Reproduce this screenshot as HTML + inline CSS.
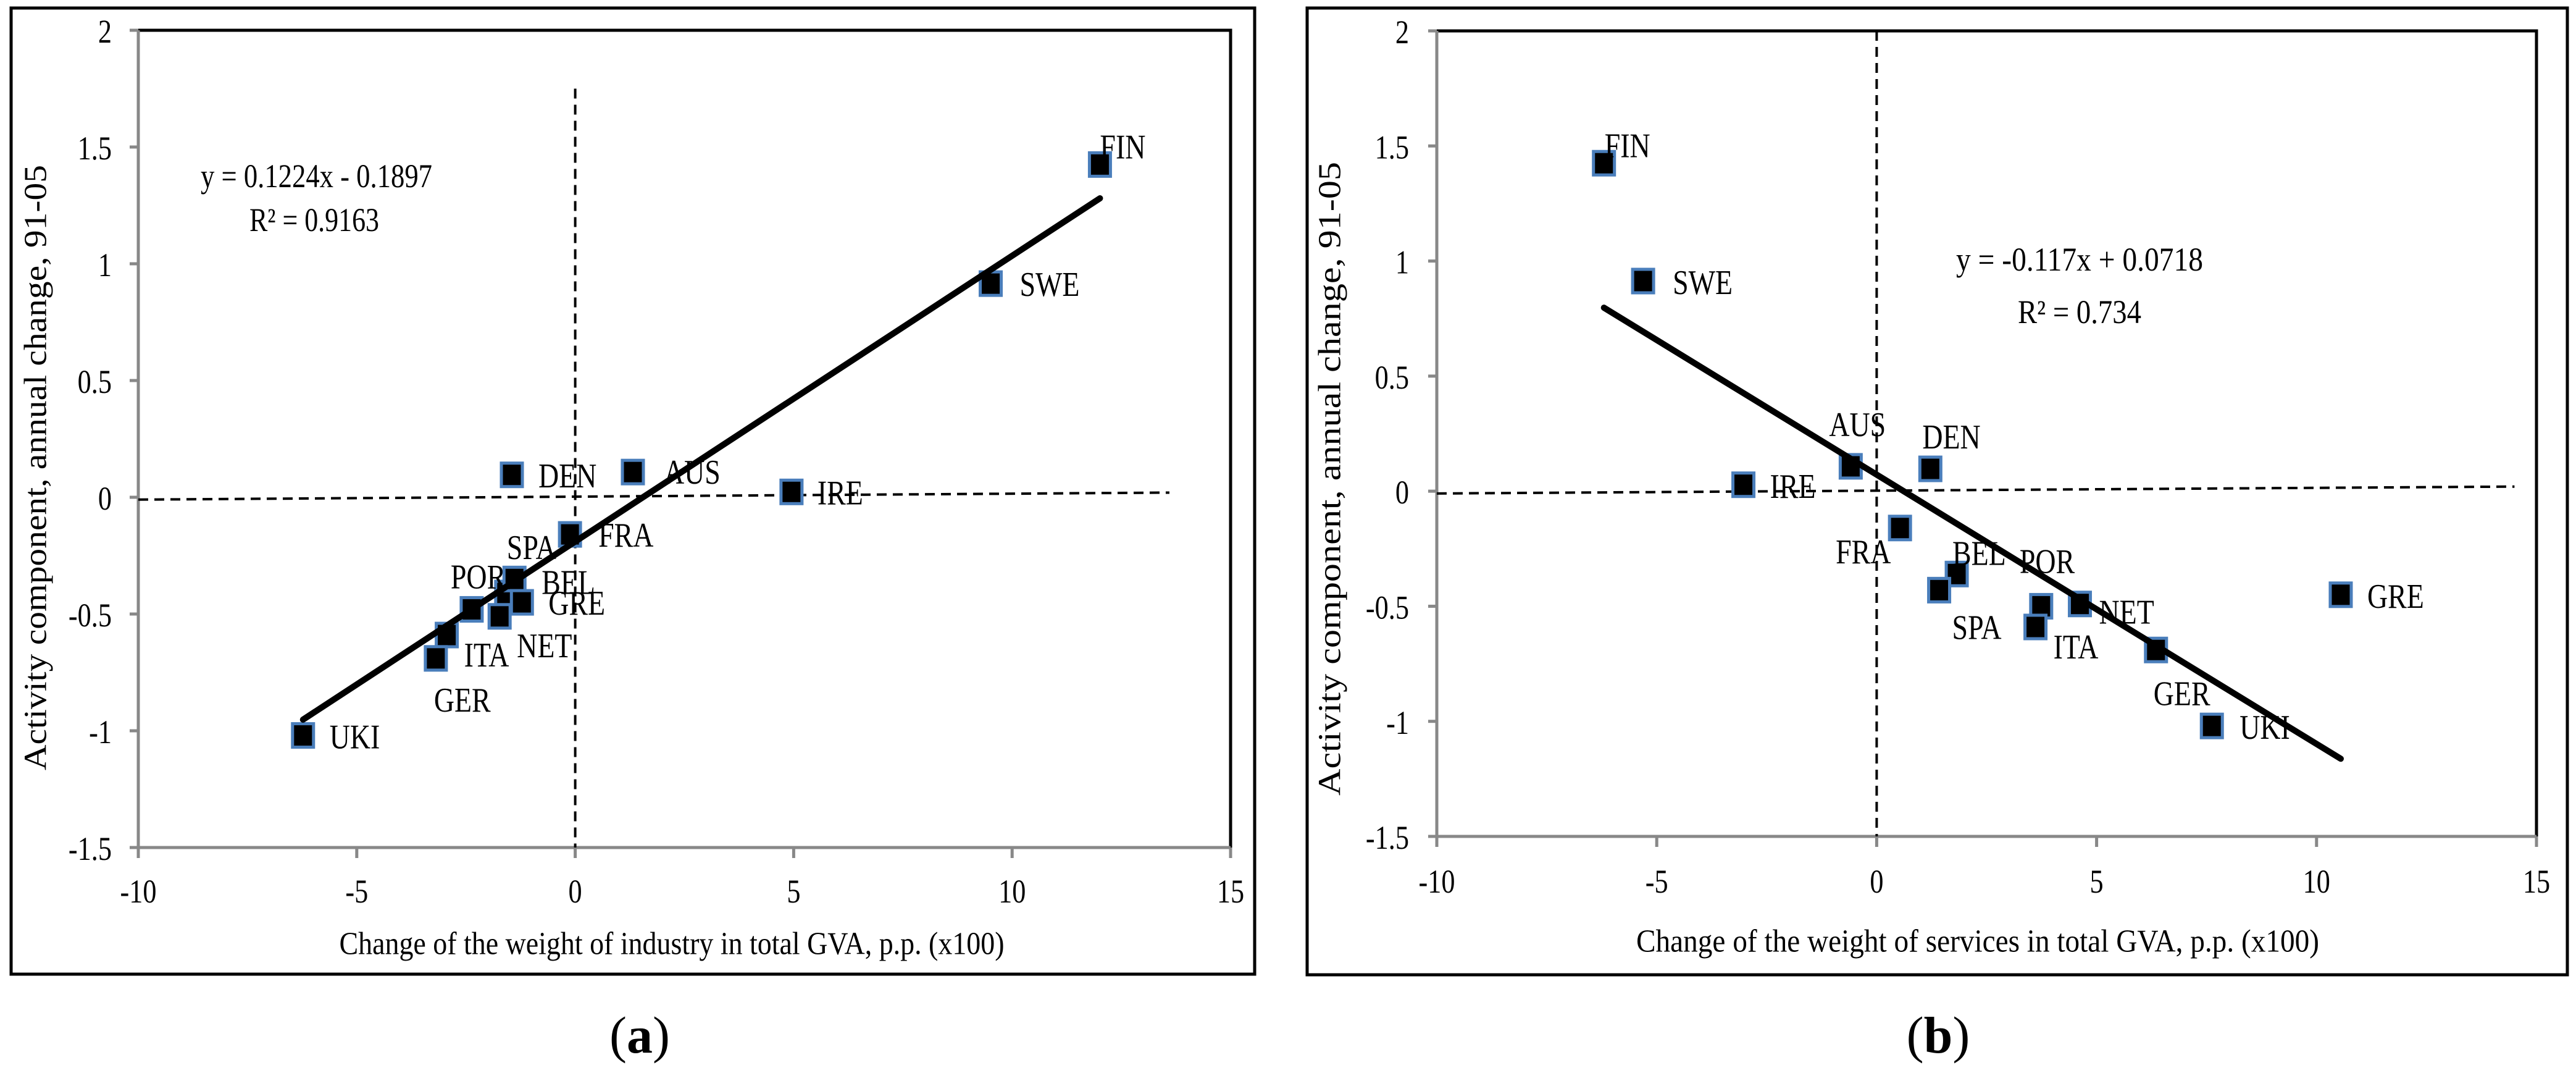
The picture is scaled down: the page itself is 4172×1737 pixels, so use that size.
<!DOCTYPE html>
<html><head><meta charset="utf-8"><style>
html,body{margin:0;padding:0;background:#fff;}
svg{display:block;}
text{font-family:"Liberation Serif",serif;fill:#000;}
</style></head><body>
<svg id="fig" width="4172" height="1737" viewBox="0 0 4172 1737" xmlns="http://www.w3.org/2000/svg"></svg>
<script>
const xTicks = [-10, -5, 0, 5, 10, 15];
const yTicks = [2, 1.5, 1, 0.5, 0, -0.5, -1, -1.5];
const aNames = ["FIN","SWE","DEN","AUS","IRE","FRA","SPA","POR","BEL","GRE","NET","ITA","GER","UKI"];
const aX = [12.01, 9.51, -1.45, 1.32, 4.95, -0.12, -1.58, -2.37, -1.39, -1.22, -1.73, -2.94, -3.19, -6.23];
const aY = [1.425, 0.915, 0.096, 0.108, 0.023, -0.159, -0.41, -0.48, -0.35, -0.45, -0.51, -0.59, -0.69, -1.02];
const bNames = ["FIN","SWE","IRE","AUS","DEN","FRA","BEL","SPA","POR","ITA","NET","GER","UKI","GRE"];
const bX = [-6.20, -5.31, -3.03, -0.59, 1.22, 0.53, 1.82, 1.42, 3.74, 3.61, 4.62, 6.35, 7.62, 10.55];
const bY = [1.425, 0.913, 0.028, 0.108, 0.097, -0.16, -0.36, -0.43, -0.50, -0.59, -0.49, -0.69, -1.02, -0.45];
const aSlope = 0.1224, aIntercept = -0.1897;
const bSlope = -0.117, bIntercept = 0.0718;

const NS = "http://www.w3.org/2000/svg";
const svg = document.getElementById("fig");
function mk(tag, attrs, parent) {
  const e = document.createElementNS(NS, tag);
  for (const k in attrs) e.setAttribute(k, attrs[k]);
  (parent || svg).appendChild(e);
  return e;
}
function txt(str, x, y, size, anchor, sx, parent, weight) {
  const t = mk("text", {x: 0, y: 0, "font-size": size, "text-anchor": anchor || "start",
    "dominant-baseline": "central", transform: `translate(${x},${y}) scale(${sx || 0.82},1)`}, parent);
  if (weight) t.setAttribute("font-weight", weight);
  t.textContent = str;
  return t;
}

const panelA = {
  key: "a", frame: [18, 13, 2032, 1577], L: 224, R: 1993, T: 49, B: 1372,
  names: aNames, xs: aX, ys: aY, slope: aSlope, icpt: aIntercept,
  xTitle: "Change of the weight  of industry in total GVA,  p.p. (x100)", xTitleX: 1088, xTitleY: 1528, xTitleLen: 1077,
  yTitleX: 58, yTitleY: 757, yTitleLen: 980,
  tickLabelRight: 181, xTickLabelY: 1443,
  eq: ["y = 0.1224x - 0.1897", "R² = 0.9163"], eqPos: [[325, 285, 375], [404, 356, 210]],
  vDashTop: 1.75, hDash: [-10, -0.01, 13.6, 0.02],
  letter: "(a)", letterX: 1036,
  off: {FIN:[0,-28],SWE:[47,2],DEN:[43,2],AUS:[50,1],IRE:[42,2],FRA:[46,2],SPA:[1,-73],POR:[-34,-52],BEL:[44,6],GRE:[43,2],NET:[28,48],ITA:[28,33],GER:[-3,68],UKI:[43,3]}
};
const panelB = {
  key: "b", frame: [2117, 13, 4158, 1578], L: 2327, R: 4108, T: 50, B: 1354,
  names: bNames, xs: bX, ys: bY, slope: bSlope, icpt: bIntercept,
  xTitle: "Change of the weight  of services in total GVA,  p.p. (x100)", xTitleX: 3203, xTitleY: 1524, xTitleLen: 1106,
  yTitleX: 2154, yTitleY: 775, yTitleLen: 1026,
  tickLabelRight: 2282, xTickLabelY: 1427,
  eq: ["y = -0.117x + 0.0718", "R² = 0.734"], eqPos: [[3168, 420, 400], [3268, 505, 200]],
  vDashTop: 2.0, hDash: [-10, -0.01, 14.5, 0.02],
  letter: "(b)", letterX: 3139,
  off: {FIN:[1,-28],SWE:[48,3],IRE:[43,3],AUS:[-35,-67],DEN:[-13,-51],FRA:[-104,39],BEL:[-7,-33],SPA:[21,61],POR:[-35,-72],ITA:[29,33],NET:[31,14],GER:[-4,71],UKI:[45,3],GRE:[43,3]}
};

function drawPanel(p) {
  const g = mk("g", {});
  
  
  const sx = v => p.L + (v + 10) / 25 * (p.R - p.L);
  const sy = v => p.T + (2 - v) / 3.5 * (p.B - p.T);
  const f = p.frame;
  const frame = mk("rect", {x: f[0], y: f[1], width: f[2] - f[0], height: f[3] - f[1], fill: "none", stroke: "#000", "stroke-width": 5}, g);
  
  
  // plot border top/right black
  const pb = mk("path", {d: `M${p.L},${p.T} H${p.R} V${p.B}`, fill: "none", stroke: "#000", "stroke-width": 5}, g);
  
  
  // axes gray
  const ax = mk("path", {d: `M${p.L},${p.T} V${p.B} H${p.R}`, fill: "none", stroke: "#888", "stroke-width": 5}, g);
  
  
  yTicks.forEach(v => {
    const t = mk("line", {x1: p.L - 14, x2: p.L, y1: sy(v), y2: sy(v), stroke: "#888", "stroke-width": 5}, g);
    
    
    const l = txt(String(v), p.tickLabelRight, sy(v) + 2, 54, "end", 0.82, g);
    
    
  });
  xTicks.forEach(v => {
    const t = mk("line", {x1: sx(v), x2: sx(v), y1: p.B, y2: p.B + 17, stroke: "#888", "stroke-width": 5}, g);
    
    
    const l = txt(String(v), sx(v), p.xTickLabelY, 54, "middle", 0.82, g);
    
    
  });
  // dashed reference lines
  const vd = mk("line", {x1: sx(0), x2: sx(0), y1: sy(p.vDashTop), y2: p.B, stroke: "#000", "stroke-width": 4, "stroke-dasharray": "16 10"}, g);
  
  
  const hd = mk("line", {x1: sx(p.hDash[0]), y1: sy(p.hDash[1]), x2: sx(p.hDash[2]), y2: sy(p.hDash[3]), stroke: "#000", "stroke-width": 4, "stroke-dasharray": "16 10"}, g);
  
  
  // markers
  p.names.forEach((n, i) => {
    const cx = sx(p.xs[i]), cy = sy(p.ys[i]);
    const m = mk("rect", {x: cx - 17, y: cy - 19, width: 34, height: 38, fill: "#000", stroke: "#4a7ebb", "stroke-width": 5}, g);
    
    
  });
  // trendline
  const x0 = Math.min(...p.xs), x1 = Math.max(...p.xs);
  const tl = mk("line", {x1: sx(x0), y1: sy(p.slope * x0 + p.icpt), x2: sx(x1), y2: sy(p.slope * x1 + p.icpt), stroke: "#000", "stroke-width": 10, "stroke-linecap": "round"}, g);
  
  
  // labels
  p.names.forEach((n, i) => {
    const o = p.off[n];
    const l = txt(n, sx(p.xs[i]) + o[0], sy(p.ys[i]) + o[1], 56, "start", 0.82, g);
    
    
  });
  // equation
  p.eq.forEach((s, i) => {
    const e = mk("text", {x: p.eqPos[i][0], y: p.eqPos[i][1], "font-size": 54, "dominant-baseline": "central", textLength: p.eqPos[i][2], lengthAdjust: "spacingAndGlyphs"}, g);
    e.textContent = s;
    
    
  });
  // titles
  const xt = mk("text", {x: p.xTitleX, y: p.xTitleY, "font-size": 52, "text-anchor": "middle", "dominant-baseline": "central", textLength: p.xTitleLen, lengthAdjust: "spacingAndGlyphs"}, g);
  xt.textContent = p.xTitle;
  
  
  const yt = mk("text", {x: 0, y: 0, "font-size": 52, "text-anchor": "middle", "dominant-baseline": "central", textLength: p.yTitleLen, lengthAdjust: "spacingAndGlyphs", transform: `translate(${p.yTitleX},${p.yTitleY}) rotate(-90)`}, g);
  yt.textContent = "Activity component, annual change, 91-05";
  
  
  const lt = mk("text", {x: p.letterX, y: 1676, "font-size": 84, "text-anchor": "middle", "dominant-baseline": "central"}, g);
  lt.innerHTML = '(<tspan font-weight="bold">' + p.key + '</tspan>)';
  
  
}
drawPanel(panelA);
drawPanel(panelB);
</script>
</body></html>
